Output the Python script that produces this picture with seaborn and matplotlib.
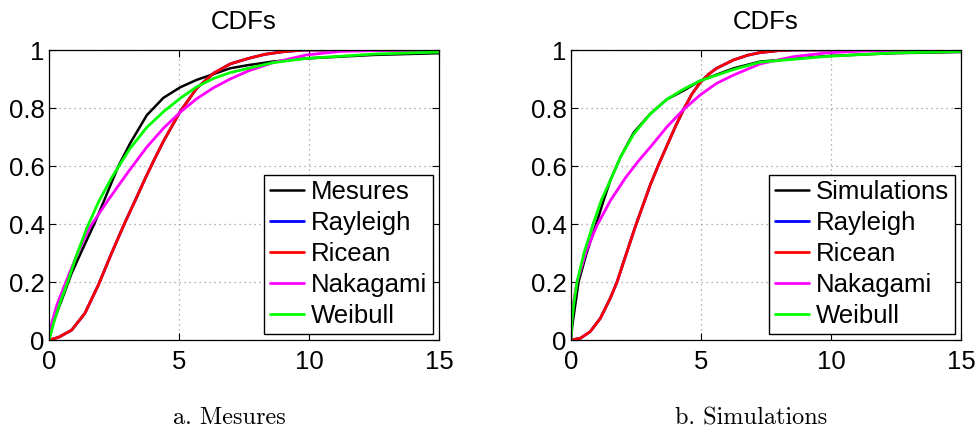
import numpy as np
import pandas as pd
import matplotlib
matplotlib.use("Agg")
import matplotlib.pyplot as plt
import seaborn as sns
from matplotlib.ticker import FuncFormatter

# ---- values read off the reference (empirical CDFs and fitted CDFs) ----
# a. Mesures
mes_x = [0, 0.2, 0.49, 0.87, 1.3, 1.74, 2.13, 2.67, 3.12, 3.76, 4.4, 5.04, 5.68, 6.33, 6.97, 7.67, 8.6, 9.9, 12.5, 15]
mes_y = [0, 0.07, 0.138, 0.23, 0.315, 0.40, 0.483, 0.60, 0.678, 0.775, 0.835, 0.871, 0.897, 0.917, 0.937, 0.948, 0.96, 0.971, 0.983, 0.989]

mes_ric_x = [0, 0.36, 0.87, 1.38, 1.9, 2.41, 2.92, 3.31, 3.69, 4.01, 4.4, 5.04, 5.68, 6.33, 6.97, 7.67, 8.3, 9.0, 9.8, 15]
mes_ric_y = [0, 0.009, 0.034, 0.092, 0.19, 0.30, 0.405, 0.48, 0.555, 0.615, 0.685, 0.787, 0.868, 0.92, 0.952, 0.971, 0.985, 0.994, 1.0, 1.0]

mes_nak_x = [0, 0.1, 0.3, 0.65, 1.1, 1.58, 2.28, 3.05, 3.76, 4.4, 5.04, 5.68, 6.33, 6.97, 7.67, 8.6, 9.9, 11.2, 13, 15]
mes_nak_y = [0, 0.057, 0.12, 0.20, 0.30, 0.39, 0.483, 0.58, 0.665, 0.73, 0.785, 0.832, 0.87, 0.9, 0.928, 0.956, 0.983, 0.995, 0.999, 1.0]

mes_wei_x = [0, 0.2, 0.45, 0.72, 1.05, 1.45, 1.9, 2.41, 3.12, 3.76, 4.4, 5.04, 5.68, 6.33, 6.97, 7.67, 8.6, 9.9, 12.5, 15]
mes_wei_y = [0, 0.065, 0.135, 0.20, 0.29, 0.385, 0.475, 0.56, 0.661, 0.733, 0.787, 0.833, 0.873, 0.902, 0.922, 0.937, 0.956, 0.971, 0.986, 0.993]

# b. Simulations
sim_x = [0, 0.05, 0.13, 0.29, 0.6, 0.97, 1.26, 1.51, 1.9, 2.41, 3.05, 3.69, 4.33, 4.97, 6.26, 7.27, 9.83, 12.4, 15]
sim_y = [0, 0.05, 0.10, 0.20, 0.30, 0.40, 0.483, 0.55, 0.63, 0.715, 0.78, 0.83, 0.86, 0.894, 0.937, 0.96, 0.979, 0.989, 0.993]

sim_ric_x = [0, 0.36, 0.74, 1.13, 1.51, 1.77, 2.1, 2.47, 2.77, 3.05, 3.37, 3.69, 4.01, 4.33, 4.65, 4.97, 5.3, 5.6, 6.26, 6.8, 7.27, 8.0, 8.6, 15]
sim_ric_y = [0, 0.006, 0.029, 0.075, 0.144, 0.20, 0.29, 0.39, 0.465, 0.535, 0.605, 0.67, 0.735, 0.795, 0.848, 0.888, 0.917, 0.937, 0.966, 0.982, 0.991, 0.998, 1.0, 1.0]

sim_nak_x = [0, 0.02, 0.1, 0.23, 0.6, 1.0, 1.51, 2.1, 2.6, 3.05, 3.69, 4.33, 4.97, 5.6, 6.26, 7.27, 8.55, 9.83, 11.1, 13, 15]
sim_nak_y = [0, 0.06, 0.13, 0.20, 0.31, 0.395, 0.48, 0.56, 0.618, 0.665, 0.735, 0.795, 0.845, 0.885, 0.914, 0.952, 0.977, 0.99, 0.996, 0.999, 1.0]

sim_wei_x = [0, 0.04, 0.1, 0.23, 0.5, 0.85, 1.17, 1.51, 1.9, 2.41, 3.05, 3.69, 4.33, 4.97, 6.26, 7.27, 9.83, 12.4, 15]
sim_wei_y = [0, 0.07, 0.12, 0.20, 0.30, 0.40, 0.483, 0.55, 0.63, 0.71, 0.78, 0.83, 0.865, 0.894, 0.933, 0.958, 0.978, 0.99, 0.995]

x_ticks = [0, 5, 10, 15]
y_ticks = [0, 0.2, 0.4, 0.6, 0.8, 1]
captions = ["a. Mesures", "b. Simulations"]

sns.set_style("ticks")
plt.rcParams['font.family'] = ['Liberation Sans', 'DejaVu Sans']
plt.rcParams['text.color'] = 'black'

fig = plt.figure(figsize=(9.75, 4.32), dpi=100)
ax1 = fig.add_axes([49 / 975, 1 - 340 / 432, 390 / 975, 290 / 432])
ax2 = fig.add_axes([571 / 975, 1 - 340 / 432, 390 / 975, 290 / 432])

panels = [
    (ax1, "Mesures", (mes_x, mes_y), (mes_ric_x, mes_ric_y), (mes_nak_x, mes_nak_y), (mes_wei_x, mes_wei_y)),
    (ax2, "Simulations", (sim_x, sim_y), (sim_ric_x, sim_ric_y), (sim_nak_x, sim_nak_y), (sim_wei_x, sim_wei_y)),
]

for ax, name, emp, ric, nak, wei in panels:
    # Rayleigh and Ricean fits coincide, the red line sits on top of the blue one
    sns.lineplot(x=emp[0], y=emp[1], ax=ax, color="black", lw=1.8, label=name)
    sns.lineplot(x=ric[0], y=ric[1], ax=ax, color="#0000ff", lw=2, label="Rayleigh")
    sns.lineplot(x=ric[0], y=ric[1], ax=ax, color="#ff0000", lw=2, label="Ricean")
    sns.lineplot(x=nak[0], y=nak[1], ax=ax, color="#ff00ff", lw=2, label="Nakagami")
    sns.lineplot(x=wei[0], y=wei[1], ax=ax, color="#00ff00", lw=2, label="Weibull")

    ax.set_xlim(0, 15)
    ax.set_ylim(0, 1)
    ax.set_xticks(x_ticks)
    ax.set_yticks(y_ticks)
    ax.yaxis.set_major_formatter(FuncFormatter(lambda v, p: f"{v:g}"))
    ax.set_xlabel("")
    ax.set_ylabel("")
    ax.set_title("CDFs", fontsize=18.5, pad=15, color="black")
    ax.grid(True, linestyle=(0, (1, 3)), color="#999999", lw=0.9)
    ax.tick_params(direction="in", top=True, right=True, length=5, width=0.8,
                   labelsize=18.5, colors="black")
    ax.tick_params(axis="x", pad=7)
    ax.tick_params(axis="y", pad=3)
    for s in ax.spines.values():
        s.set_visible(True)
        s.set_color("black")
        s.set_linewidth(0.9)

    leg = ax.legend(loc="lower right", fontsize=18.5, frameon=True, fancybox=False,
                    framealpha=1, edgecolor="black", handlelength=1.35,
                    handletextpad=0.25, labelspacing=0.27, borderpad=0.22,
                    borderaxespad=0.25, labelcolor="black")
    leg.get_frame().set_linewidth(1.0)

fig.text(229.7 / 975, 1 - 418 / 432, captions[0], ha="center", va="center",
         fontsize=17.5, family=["cmr10", "DejaVu Serif"])
fig.text(751.5 / 975, 1 - 418 / 432, captions[1], ha="center", va="center",
         fontsize=17.5, family=["cmr10", "DejaVu Serif"])

fig.savefig("out.png", dpi=100, facecolor="white")
